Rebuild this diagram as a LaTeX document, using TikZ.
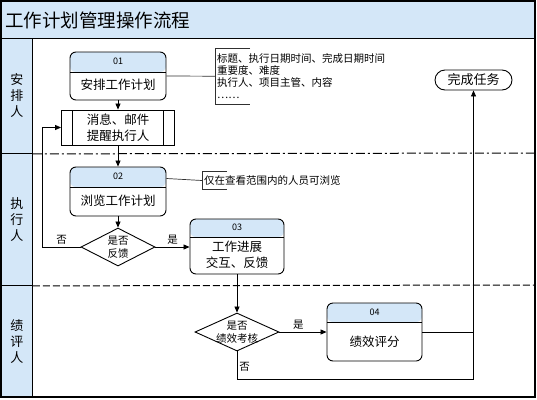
\documentclass[tikz,border=0pt]{standalone}
\usepackage{fontspec}
\setmainfont{Noto Sans CJK SC}
\usepackage{tikz}
\usetikzlibrary{arrows.meta,positioning,shapes.geometric,calc}
\definecolor{laneblue}{HTML}{D4E7F8}
\definecolor{headblue}{HTML}{D4E7F8}
\definecolor{linegray}{HTML}{303030}
\newcommand{\fsz}[2]{\fontsize{#1}{#2}\selectfont}
\tikzset{
  titlebar/.style={rectangle,draw=black,fill=laneblue,line width=0.9pt,minimum width=534pt,minimum height=37pt,text width=526pt,align=left,inner xsep=4pt,font=\fsz{18.5}{20}},
  lanecell/.style={rectangle,draw=black,fill=laneblue,line width=0.9pt,minimum width=31pt,inner sep=0pt,align=center,font=\fsz{13}{16}},
  stepbox/.style={rectangle,rounded corners=6pt,draw=black,line width=0.9pt,fill=white,minimum width=96pt,inner sep=0pt,
    path picture={\fill[headblue] (path picture bounding box.north west) rectangle ([yshift=-#1]path picture bounding box.north east);
      \draw[line width=0.9pt] ([yshift=-#1]path picture bounding box.north west) -- ([yshift=-#1]path picture bounding box.north east);}},
  stepbox/.default=20pt,
  numtext/.style={font=\fsz{9}{9},inner sep=0pt},
  steptext/.style={font=\fsz{12.5}{16},align=center,inner sep=0pt},
  procbox/.style={rectangle,draw=black,line width=0.9pt,fill=white,minimum width=113pt,minimum height=35pt,inner sep=0pt,align=center,font=\fsz{12.5}{16},
    path picture={\draw ([xshift=11pt]path picture bounding box.north west) -- ([xshift=11pt]path picture bounding box.south west);
      \draw ([xshift=-11pt]path picture bounding box.north east) -- ([xshift=-11pt]path picture bounding box.south east);}},
  decision/.style={diamond,draw=black,line width=0.9pt,fill=white,inner sep=0pt,minimum height=38pt},
  dectext/.style={font=\fsz{10.5}{13},align=center,inner sep=0pt},
  endbox/.style={rectangle,rounded corners=10pt,draw=black,line width=0.9pt,fill=white,minimum width=77pt,minimum height=20pt,inner sep=0pt,font=\fsz{13}{15}},
  notetext/.style={font=\fsz{10.5}{12},align=left,inner xsep=2pt,inner ysep=0pt},
  noteline/.style={line width=0.7pt,draw=linegray},
  lanesep/.style={line width=1pt,dash pattern=on 9pt off 3pt on 2pt off 3pt},
  lanesepb/.style={line width=1pt,dash pattern=on 7pt off 3pt},
  arrow/.style={-{Triangle[length=6pt,width=5pt]},line width=0.8pt,draw=black},
  line/.style={line width=0.8pt,draw=black},
  yn/.style={font=\fsz{10.5}{12},inner sep=2pt}
}
\begin{document}
\begin{tikzpicture}[x=1pt,y=-1pt]
  \useasboundingbox (0,0) rectangle (537,399);
  % frame and lanes
  \node[titlebar,anchor=north west] (title) at (1,1) {工作计划管理操作流程};
  \node[lanecell,minimum height=115pt,anchor=north west] (lane1) at (1,38) {安\\排\\人};
  \node[lanecell,minimum height=132pt,anchor=north west] (lane2) at (1,153) {执\\行\\人};
  \node[lanecell,minimum height=112pt,anchor=north west] (lane3) at (1,285) {绩\\评\\人};
  \draw[lanesep] (lane1.south east) -- (535,153);
  \draw[lanesepb] (lane2.south east) -- (535,285);
  \draw[line width=1.2pt] (1,1) rectangle (535,397);

  % steps
  \node[stepbox,minimum height=48pt] (plan) at (118,76) {};
  \node[numtext] (plan-n) at ([yshift=-10pt]plan.north) {01};
  \node[steptext] (plan-t) at ([yshift=-33pt]plan.north) {安排工作计划};
  \node[procbox] (notify) at (118,127.5) {消息、邮件\\提醒执行人};
  \node[stepbox,minimum height=49pt] (browse) at (118,191.5) {};
  \node[numtext] (browse-n) at ([yshift=-10pt]browse.north) {02};
  \node[steptext] (browse-t) at ([yshift=-34pt]browse.north) {浏览工作计划};
  \node[decision,minimum width=74pt] (fb) at (118,247) {};
  \node[dectext] (fb-t) at (fb) {是否\\反馈};
  \node[stepbox=18pt,minimum width=94pt,minimum height=55pt] (progress) at (237,246.5) {};
  \node[numtext] (progress-n) at ([yshift=-9pt]progress.north) {03};
  \node[steptext] (progress-t) at ([yshift=-36pt]progress.north) {工作进展\\交互、反馈};
  \node[decision,minimum width=84pt] (eval) at (237,332) {};
  \node[dectext] (eval-t) at (eval) {是否\\绩效考核};
  \node[stepbox=19pt,minimum width=95pt,minimum height=58pt] (score) at (374.5,332) {};
  \node[numtext] (score-n) at ([yshift=-9.5pt]score.north) {04};
  \node[steptext] (score-t) at ([yshift=-39pt]score.north) {绩效评分};
  \node[endbox] (done) at (473.5,80) {完成任务};

  % notes
  \node[notetext,minimum height=56pt,anchor=north west] (planinfo) at (215,48) {标题、执行日期时间、完成日期时间\\重要度、难度\\执行人、项目主管、内容\\……};
  \draw[noteline] ([xshift=35pt]planinfo.north west) -- (planinfo.north west) -- (planinfo.south west) -- ++(35pt,0);
  \node[notetext,minimum height=17pt,anchor=west] (browseinfo) at (202,180.5) {仅在查看范围内的人员可浏览};
  \draw[noteline] ([xshift=25pt]browseinfo.north west) -- (browseinfo.north west) -- (browseinfo.south west) -- ++(25pt,0);
  \draw[noteline] (plan.east) -- (planinfo.west);
  \draw[noteline] ([yshift=13pt]browse.east) -- (browseinfo.west);

  % flow
  \draw[arrow] (plan.south) -- (notify.north);
  \draw[arrow] (notify.south) -- (browse.north);
  \draw[arrow] (browse.south) -- (fb.north);
  \draw[arrow] (fb.east) -- node[yn,above]{是} (fb.east -| progress.west);
  \draw[arrow] (fb.west) -- node[yn,above]{否} ++(-38pt,0) |- (notify.west);
  \draw[arrow] (progress.south) -- (eval.north);
  \draw[arrow] (eval.east) -- node[yn,above,pos=0.4]{是} (score.west);
  \draw[arrow] (score.east) -| (done.south);
  \draw[line] (eval.south) -- node[yn,right,pos=0.55]{否} ++(0,-28pt) -| (score.east -| done.south);
\end{tikzpicture}
\end{document}
